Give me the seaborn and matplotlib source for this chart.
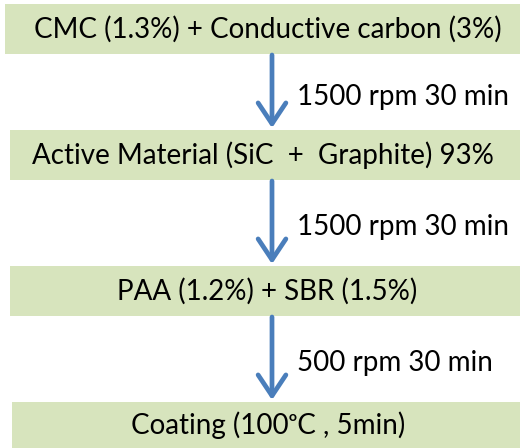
import matplotlib
matplotlib.use("Agg")
import matplotlib.pyplot as plt
import seaborn as sns
from matplotlib.patches import Rectangle

# Flow steps (top to bottom) and the mixing condition between them
steps = [
    "CMC (1.3%) + Conductive carbon (3%)",
    "Active Material (SiC  +  Graphite) 93%",
    "PAA (1.2%) + SBR (1.5%)",
    "Coating (100\u1d52C , 5min)",
]
conditions = ["1500 rpm 30 min", "1500 rpm 30 min", "500 rpm 30 min"]

# Layout in pixels (image is 520 x 448)
box_left = [5, 10, 10, 12]
box_top = [4, 130, 266, 402]
box_bottom = [54, 180, 316, 448]
text_x = [268, 263, 267, 268]
arrow_x = 272
cond_x = 297

box_color = "#d7e4bd"
arrow_color = "#4a7ebb"

sns.set_theme(style="white")
plt.rcParams["font.family"] = ["Lato", "DejaVu Sans"]

fig = plt.figure(figsize=(5.2, 4.48), dpi=100)
ax = fig.add_axes([0, 0, 1, 1])
ax.set_xlim(0, 520)
ax.set_ylim(448, 0)
ax.axis("off")

for i, label in enumerate(steps):
    h = box_bottom[i] - box_top[i]
    ax.add_patch(Rectangle((box_left[i], box_top[i]), 530 - box_left[i], h,
                           facecolor=box_color, edgecolor="none"))
    ax.text(text_x[i], box_top[i] + h / 2, label, ha="center", va="center",
            fontsize=20, color="black")

for i, cond in enumerate(conditions):
    y0 = box_bottom[i] + 1
    y1 = box_top[i + 1] - 2
    ax.annotate("", xy=(arrow_x, y1), xytext=(arrow_x, y0),
                arrowprops=dict(arrowstyle="->,head_length=0.75,head_width=0.5",
                                color=arrow_color, lw=3.4, mutation_scale=20,
                                shrinkA=0, shrinkB=0))
    ax.text(cond_x, (y0 + y1) / 2 + 5, cond, ha="left", va="center",
            fontsize=20, color="black")

fig.savefig("out.png", dpi=100)
